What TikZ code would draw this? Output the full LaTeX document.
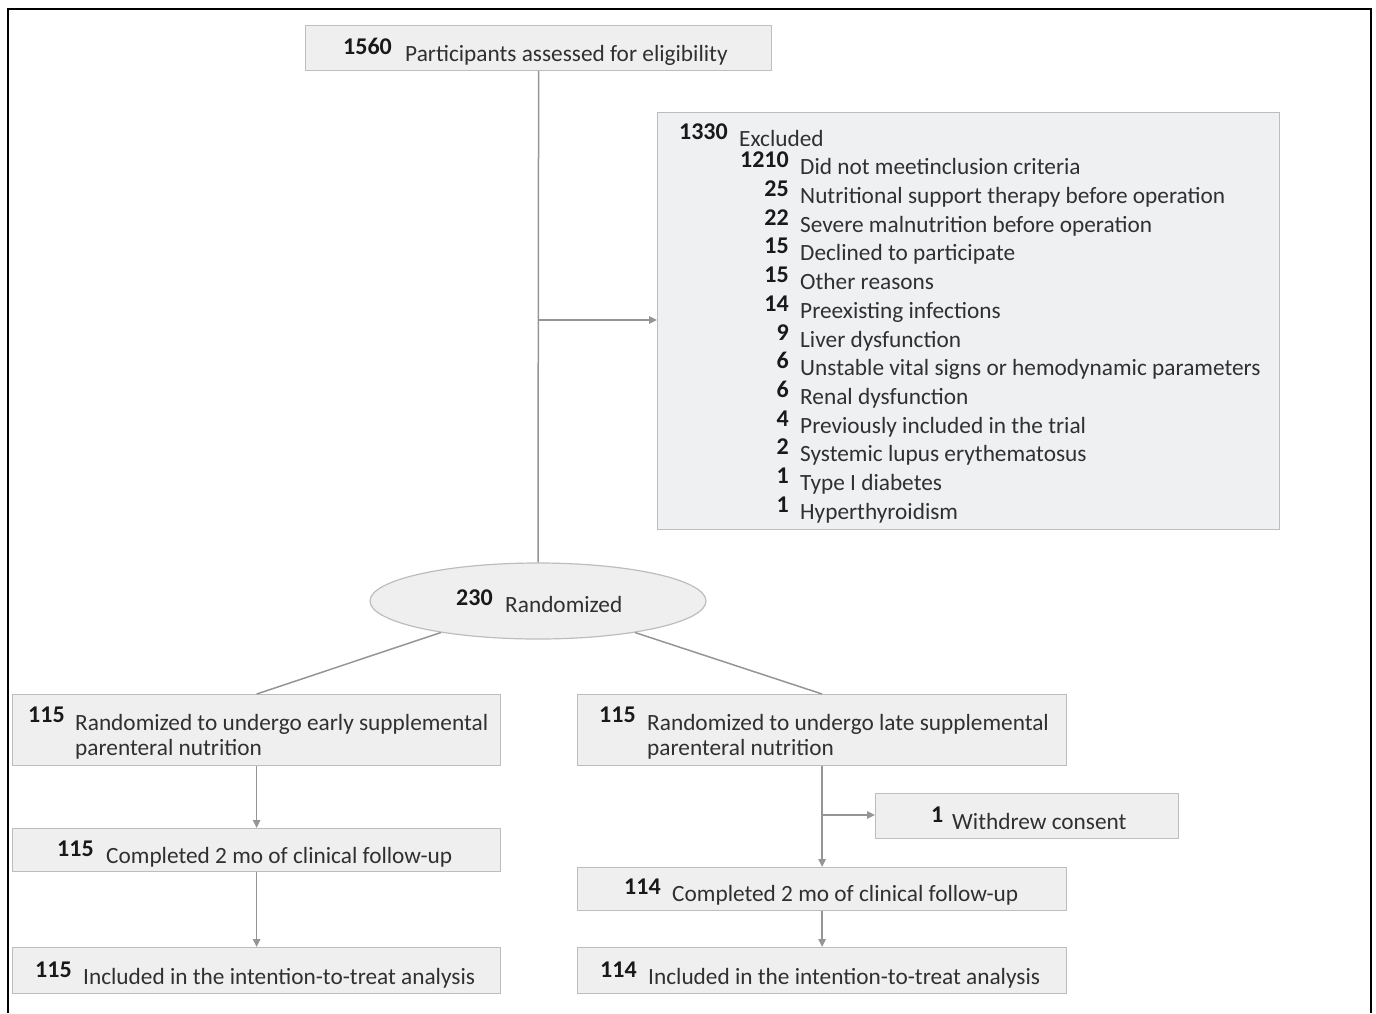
\documentclass[tikz,border=0pt]{standalone}
\usepackage{fontspec}
\setmainfont{Carlito}
\usetikzlibrary{arrows.meta,shapes.geometric}
\definecolor{boxfill}{HTML}{EFEFEF}
\definecolor{exclfill}{HTML}{EEF0F1}
\definecolor{boxline}{HTML}{BDBDBD}
\definecolor{connc}{HTML}{959595}
\definecolor{txt}{HTML}{303030}
\begin{document}
\begin{tikzpicture}[x=1pt,y=-1pt,
  box/.style={draw=boxline, fill=boxfill, line width=1.2pt, rectangle, inner sep=0pt, anchor=north west},
  num/.style={font=\fontsize{24}{28}\selectfont\bfseries, text=black!90, inner sep=0pt, anchor=base west},
  lbl/.style={font=\fontsize{23.3}{28}\selectfont, text=txt, inner sep=0pt, anchor=base west},
  conn/.style={draw=connc, line width=1.5pt},
  arr/.style={conn, -{Triangle[length=8pt,width=7.5pt]}}]
\useasboundingbox (0,0) rectangle (1376,1013);
\draw[line width=1.5pt] (8,1013) -- (8,9) -- (1371,9) -- (1371,1013);

% boxes
\node[box, minimum width=466, minimum height=45] (top) at (305,25) {};
\node[box, fill=exclfill, minimum width=622, minimum height=417] (excl) at (657,112) {};
\node[ellipse, draw=boxline, fill=boxfill, line width=1.2pt, inner sep=0pt, minimum width=336, minimum height=76] (rand) at (538,601) {};
\node[box, minimum width=488, minimum height=71] (early) at (12,694) {};
\node[box, minimum width=489, minimum height=71] (late) at (577,694) {};
\node[box, minimum width=488, minimum height=43] (compE) at (12,828) {};
\node[box, minimum width=489, minimum height=43] (compL) at (577,867) {};
\node[box, minimum width=303, minimum height=45] (withdrew) at (875,793) {};
\node[box, minimum width=488, minimum height=46] (inclE) at (12,947) {};
\node[box, minimum width=489, minimum height=46] (inclL) at (577,947) {};

% connectors
\draw[conn] (top.south) -- (rand.north);
\coordinate (bx) at (538,320);
\draw[arr] (bx) -- (excl.west |- bx);
\draw[conn] (rand.198) -- (early.north);
\draw[conn] (rand.342) -- (late.north);
\draw[arr] (early.south) -- (compE.north);
\draw[arr] (compE.south) -- (inclE.north);
\draw[arr] (late.south) -- (compL.north);
\coordinate (bw) at (821.5,815);
\draw[arr] (bw) -- (withdrew.west |- bw);
\draw[arr] (compL.south) -- (inclL.north);

% texts
\node[num] (n0) at (343,54) {1560};
\node[lbl] (t0) at (405,61) {Participants assessed for eligibility};

\node[num, anchor=base east] (en0) at (728,139) {1330};
\node[lbl] (et0) at (739,146) {Excluded};
\foreach \n/\t [count=\i] in {
  1210/Did not  meetinclusion criteria,
  25/Nutritional support therapy before operation,
  22/Severe malnutrition before operation,
  15/Declined to participate,
  15/Other reasons,
  14/Preexisting infections,
  9/Liver dysfunction,
  6/Unstable vital signs or hemodynamic parameters,
  6/Renal dysfunction,
  4/Previously included in the trial,
  2/Systemic lupus erythematosus,
  1/Type I diabetes,
  1/Hyperthyroidism}{
  \node[num, anchor=base east] (en\i) at (789,139+28.72*\i) {\n};
  \node[lbl] (et\i) at (800,146+28.72*\i) {\t};
}

\node[num] (nr) at (456,605) {230};
\node[lbl] (tr) at (505,612) {Randomized};

\node[num] (ne1) at (28,722) {115};
\node[lbl] (te1a) at (75,730) {Randomized to undergo early supplemental};
\node[lbl] (te1b) at (75,755) {parenteral nutrition};
\node[num] (nl1) at (599,722) {115};
\node[lbl] (tl1a) at (647,730) {Randomized to undergo late supplemental};
\node[lbl] (tl1b) at (647,755) {parenteral nutrition};

\node[num] (ne2) at (57,856) {115};
\node[lbl] (te2) at (106,863) {Completed 2 mo of clinical follow-up};
\node[num] (ne3) at (35,977) {115};
\node[lbl] (te3) at (83,984) {Included in the intention-to-treat analysis};

\node[num] (nw) at (931,822) {1};
\node[lbl] (tw) at (952,829) {Withdrew consent};
\node[num] (nl2) at (624,894) {114};
\node[lbl] (tl2) at (672,901) {Completed 2 mo of clinical follow-up};
\node[num] (nl3) at (600,977) {114};
\node[lbl] (tl3) at (648,984) {Included in the intention-to-treat analysis};
\end{tikzpicture}
\end{document}
